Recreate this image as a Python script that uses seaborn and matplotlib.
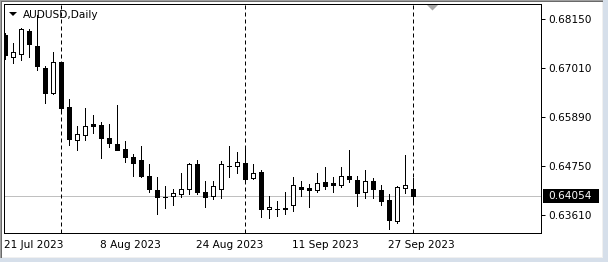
import numpy as np
import pandas as pd
import matplotlib
matplotlib.use("Agg")
import matplotlib.pyplot as plt
import matplotlib.transforms as mtrans
from matplotlib.patches import Polygon, Rectangle
import seaborn as sns

# ---------------- data ----------------
symbol_title = "AUDUSD,Daily"
dates = pd.bdate_range("2023-07-21", "2023-10-02")

opens = [0.67786, 0.67276, 0.67345, 0.67879, 0.67531, 0.67020, 0.66440, 0.67160, 0.66116, 0.65350,
         0.65466, 0.65722, 0.65698, 0.65396, 0.65257, 0.65141, 0.64956, 0.64886, 0.64515, 0.64190,
         0.64028, 0.64052, 0.64098, 0.64213, 0.64793, 0.64144, 0.64052, 0.64213, 0.64746, 0.64746,
         0.64816, 0.64468, 0.64608, 0.63749, 0.63749, 0.63772, 0.63842, 0.64260, 0.64236, 0.64190,
         0.64374, 0.64352, 0.64306, 0.64515, 0.64422, 0.64144, 0.64398, 0.64190, 0.63958, 0.63470,
         0.64236, 0.64213]
highs = [0.67832, 0.67600, 0.67948, 0.67925, 0.68250, 0.67066, 0.67392, 0.67170, 0.66301, 0.65675,
         0.66092, 0.65930, 0.65768, 0.65722, 0.66162, 0.65327, 0.65025, 0.65211, 0.64793, 0.64492,
         0.64283, 0.64213, 0.64584, 0.64816, 0.64886, 0.64398, 0.64398, 0.64862, 0.65211, 0.65072,
         0.65211, 0.64793, 0.64654, 0.64052, 0.63934, 0.64144, 0.64492, 0.64398, 0.64330, 0.64584,
         0.64724, 0.64492, 0.64724, 0.65118, 0.64515, 0.64654, 0.64468, 0.64306, 0.64098, 0.64283,
         0.65002, 0.64468]
lows = [0.67230, 0.67136, 0.67206, 0.67276, 0.66974, 0.66208, 0.66420, 0.65976, 0.65234, 0.65118,
        0.65350, 0.65512, 0.64932, 0.65188, 0.65110, 0.64839, 0.64515, 0.64492, 0.64144, 0.63633,
        0.63772, 0.63842, 0.64028, 0.64098, 0.64098, 0.63796, 0.63982, 0.64006, 0.64492, 0.64584,
        0.64352, 0.64445, 0.63562, 0.63540, 0.63586, 0.63633, 0.63702, 0.64052, 0.63796, 0.64144,
        0.64213, 0.64144, 0.64260, 0.64374, 0.63819, 0.64006, 0.64006, 0.63842, 0.63285, 0.63424,
        0.64122, 0.63888]
closes = [0.67322, 0.67392, 0.67925, 0.67577, 0.67066, 0.66440, 0.67160, 0.66092, 0.65373, 0.65489,
          0.65675, 0.65675, 0.65396, 0.65280, 0.65118, 0.64956, 0.64816, 0.64515, 0.64213, 0.64028,
          0.64028, 0.64122, 0.64213, 0.64793, 0.64144, 0.64028, 0.64283, 0.64793, 0.64750, 0.64839,
          0.64445, 0.64584, 0.63749, 0.63796, 0.63752, 0.63738, 0.64306, 0.64213, 0.64190, 0.64352,
          0.64283, 0.64306, 0.64515, 0.64445, 0.64122, 0.64398, 0.64213, 0.63934, 0.63494, 0.64260,
          0.64306, 0.64054]

ytick_values = [0.68150, 0.67010, 0.65890, 0.64750, 0.63610]
xtick_dates = ["2023-07-21", "2023-08-08", "2023-08-24", "2023-09-11", "2023-09-27"]
xtick_labels = ["21 Jul 2023", "8 Aug 2023", "24 Aug 2023", "11 Sep 2023", "27 Sep 2023"]
last_price = 0.64054

# ---------------- figure ----------------
sns.set_style("white")
plt.rcParams["font.family"] = ["DejaVu Sans"]
FS = 7.6

W, H = 608, 262
fig = plt.figure(figsize=(W / 100, H / 100), dpi=100)
fig.patch.set_facecolor("white")

ax_l, ax_r, ax_t, ax_b = 4, 541, 4, 233
ax = fig.add_axes([ax_l / W, 1 - ax_b / H, (ax_r - ax_l) / W, (ax_b - ax_t) / H])
ax.set_facecolor("white")

df = pd.DataFrame({"date": dates, "open": opens, "high": highs, "low": lows, "close": closes})
df["x"] = np.arange(len(df))
df["up"] = df["close"] >= df["open"]
df["body_lo"] = df[["open", "close"]].min(axis=1)
df["body_h"] = (df["close"] - df["open"]).abs()

PX = 0.72  # one pixel in points

# current price line
ax.axhline(last_price, color="#C0C0C0", lw=PX, zorder=1)

# month separators
month_starts = df.index[df["date"].dt.month != df["date"].shift(1).dt.month][1:]
for i in month_starts:
    ax.axvline(df.loc[i, "x"], color="black", lw=PX, ls=(0, (4, 3)), zorder=1.5)

# wicks
ax.vlines(df["x"], df["low"], df["high"], color="black", lw=PX, zorder=2, antialiased=False)
# bodies
ax.bar(df["x"], df["body_h"], bottom=df["body_lo"], width=0.5,
       color=np.where(df["up"], "white", "black"), edgecolor="black",
       linewidth=PX, zorder=3, antialiased=False)

# limits: 8 px per candle, first candle at 5.3 px
ax.set_xlim((ax_l - 5.3) / 8, (ax_r - 5.3) / 8)
ax.set_ylim(0.63192, 0.68505)

for s in ax.spines.values():
    s.set_color("black")
    s.set_linewidth(PX)

# y axis on the right
ax.yaxis.tick_right()
ax.set_yticks(ytick_values)
ax.set_yticklabels([f"{v:.5f}" for v in ytick_values], fontsize=FS)
ax.tick_params(axis="y", direction="out", length=4 * PX, width=PX, pad=3 * PX, colors="black")

# x axis
xt = [int(df.index[df["date"] == pd.Timestamp(d)][0]) for d in xtick_dates]
ax.set_xticks(xt)
ax.set_xticklabels(xtick_labels, fontsize=FS, ha="left")
ax.tick_params(axis="x", direction="out", length=4 * PX, width=PX, pad=3 * PX, colors="black")
for lab in ax.get_xticklabels():
    lab.set_transform(lab.get_transform() + mtrans.ScaledTranslation(-1 / 100, 0, fig.dpi_scale_trans))

ax.grid(False)

# current price box
ylo, yhi = ax.get_ylim()
frac = (last_price - ylo) / (yhi - ylo)
hpx = ax_b - ax_t
wpx = ax_r - ax_l
ax.add_patch(Rectangle(((543 - ax_l) / wpx, frac - 7 / hpx), 56 / wpx, 14 / hpx,
                       transform=ax.transAxes, facecolor="black", edgecolor="none",
                       clip_on=False, zorder=5))
ax.text((548 - ax_l) / wpx, frac, f"{last_price:.5f}", transform=ax.transAxes,
        ha="left", va="center", color="white", fontsize=FS, zorder=6, clip_on=False)


def fp(x, y):
    return (x / W, 1 - y / H)


# title with down-triangle
fig.patches.append(Polygon([fp(9, 12), fp(17, 12), fp(13, 16)], closed=True,
                           transform=fig.transFigure, facecolor="black", edgecolor="none"))
fig.text(23 / W, 1 - 14.5 / H, symbol_title, ha="left", va="center", fontsize=FS, color="black")

# chart-shift marker
fig.patches.append(Polygon([fp(427, 5), fp(438, 5), fp(432.5, 10.5)], closed=True,
                           transform=fig.transFigure, facecolor="#A8A8A8", edgecolor="none", zorder=10))

# window frame
def frect(x, y, w, h, c):
    fig.patches.append(Rectangle(fp(x, y + h), w / W, h / H, transform=fig.transFigure,
                                 facecolor=c, edgecolor="none", zorder=10))

frect(0, 0, W, 1, "#A0A0A0")
frect(0, 1, W, 1, "#696969")
frect(0, 0, 1, H, "#A0A0A0")
frect(1, 1, 1, H, "#696969")
frect(W - 5, 0, 5, H, "#D6DFEA")
frect(W - 6, 2, 1, H - 6, "#F0F0F0")
frect(0, H - 4, W, 4, "#D6DFEA")
frect(2, H - 5, W - 7, 1, "#F0F0F0")

fig.savefig("out.png", dpi=100, facecolor="white")
